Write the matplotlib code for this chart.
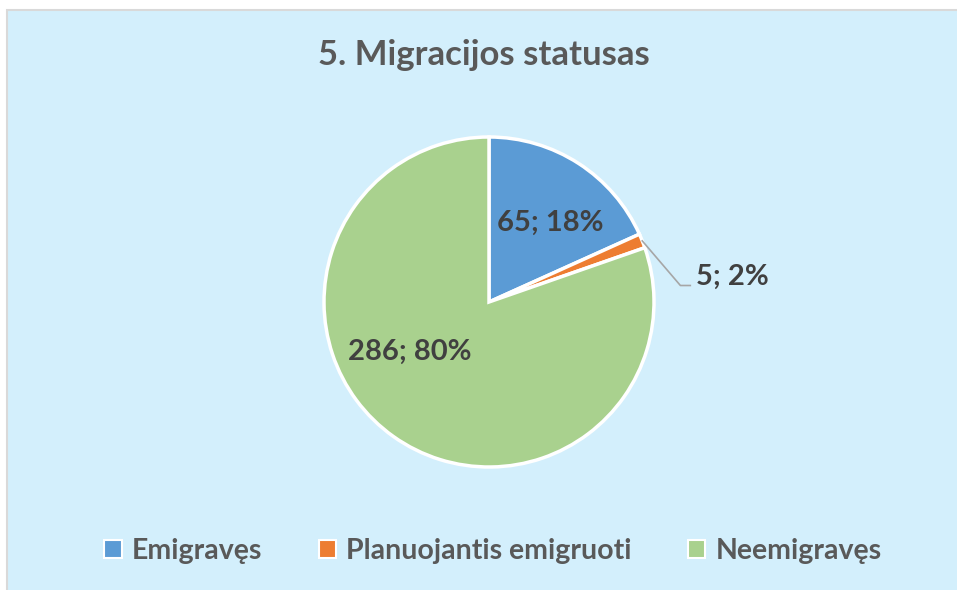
import matplotlib
matplotlib.use("Agg")
import numpy as np
import matplotlib.pyplot as plt
from matplotlib.patches import Rectangle, Patch

# data
categories = ["Emigravęs", "Planuojantis emigruoti", "Neemigravęs"]
counts = [65, 5, 286]
percents = [18, 2, 80]
colors = ["#5B9BD5", "#ED7D31", "#A9D18E"]
title = "5. Migracijos statusas"

plt.rcParams["font.family"] = ["Lato", "DejaVu Sans"]

W, H = 957, 590
fig = plt.figure(figsize=(W / 100, H / 100), dpi=100)
fig.patch.set_facecolor("white")

# chart area background with light border
bg = Rectangle((7 / W, -0.05), 1.0, (H - 10) / H + 0.05,
               transform=fig.transFigure, facecolor="#D3EFFC",
               edgecolor="#D9D9D9", linewidth=1.5, zorder=-5)
fig.add_artist(bg)

fig.text(484 / W, 1 - 55 / H, title, ha="center", va="center",
         fontsize=25, fontweight="bold", color="#595959")

cx, cy, r = 489, 302, 165
ax = fig.add_axes([(cx - r) / W, (H - cy - r) / H, 2 * r / W, 2 * r / H])
ax.set_zorder(2)
ax.patch.set_visible(False)
wedges, _ = ax.pie(counts, colors=colors, startangle=90, counterclock=False,
                   radius=1.0,
                   wedgeprops=dict(edgecolor="white", linewidth=2.5))
ax.set_xlim(-1, 1)
ax.set_ylim(-1, 1)
ax.set_aspect("equal")
for w in wedges:
    w.set_clip_on(False)

labels = [f"{c}; {p}%" for c, p in zip(counts, percents)]
lab_col = "#404040"

# inside labels
ax.text(0.37, 0.48, labels[0], ha="center", va="center", fontsize=21,
        fontweight="bold", color=lab_col)
ax.text(-0.48, -0.30, labels[2], ha="center", va="center", fontsize=21,
        fontweight="bold", color=lab_col)

# small slice: leader line + outside label
w = wedges[1]
mid = np.deg2rad((w.theta1 + w.theta2) / 2)
x0, y0 = np.cos(mid), np.sin(mid)
ax.plot([x0, 1.16, 1.22], [y0, 0.10, 0.10], color="#A6A6A6", lw=1.2,
        clip_on=False)
ax.text(1.255, 0.15, labels[1], ha="left", va="center", fontsize=21,
        fontweight="bold", color=lab_col, clip_on=False)

handles = [Patch(facecolor=c, edgecolor="white", linewidth=1.5) for c in colors]
leg = fig.legend(handles, categories, loc="center", ncol=3,
                 bbox_to_anchor=(493 / W, 1 - 551 / H), frameon=False,
                 fontsize=20.5, handlelength=0.6, handleheight=0.6,
                 handletextpad=0.35, columnspacing=2.0)
for t in leg.get_texts():
    t.set_color("#595959")
    t.set_fontweight("bold")

fig.savefig("out.png", dpi=100)
